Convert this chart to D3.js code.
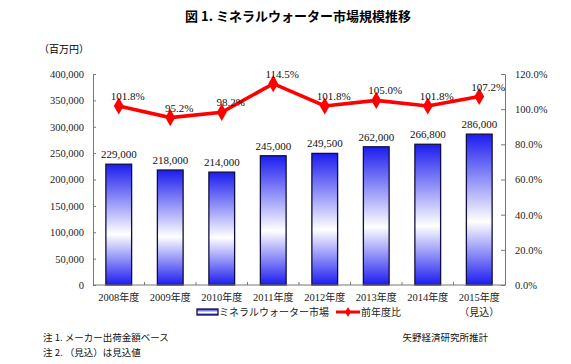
<!DOCTYPE html>
<html><head><meta charset="utf-8">
<script src="https://cdn.jsdelivr.net/npm/d3@7"></script>
<style>body{margin:0;background:#fff}svg{display:block}</style>
</head><body>
<script>
const categories = ["2008年度","2009年度","2010年度","2011年度","2012年度","2013年度","2014年度","2015年度"];
const subLabels = ["","","","","","","","（見込）"];
const marketValues = [229000,218000,214000,245000,249500,262000,266800,286000];
const yoyValues = [101.8,95.2,98.2,114.5,101.8,105.0,101.8,107.2];
const leftTicks = [0,50000,100000,150000,200000,250000,300000,350000,400000];
const rightTicks = [0,20,40,60,80,100,120];

const W=571,H=364;
const m={l:93,r:66,t:74,b:79};
const svg=d3.select("body").append("svg").attr("width",W).attr("height",H);
const serif="'Liberation Serif','DejaVu Serif',serif";
const jp="'Noto Sans CJK JP',sans-serif";

const defs=svg.append("defs");
const g1=defs.append("linearGradient").attr("id","barg").attr("x1",0).attr("y1",0).attr("x2",0).attr("y2",1);
g1.append("stop").attr("offset","0%").attr("stop-color","#1c1cf0");
g1.append("stop").attr("offset","58%").attr("stop-color","#ffffff");
g1.append("stop").attr("offset","100%").attr("stop-color","#1c1cf0");

const x=d3.scaleBand().domain(categories).range([m.l,W-m.r]).paddingInner(0.5).paddingOuter(0.25);
const xb=d3.scaleBand().domain(categories).range([m.l,W-m.r]);
const y=d3.scaleLinear().domain([0,400000]).range([H-m.b,m.t]);
const y2=d3.scaleLinear().domain([0,120]).range([H-m.b,m.t]);

// title
svg.append("text").attr("x",298).attr("y",21).attr("text-anchor","middle")
 .attr("font-family",jp).attr("font-weight","bold").attr("font-size","13px")
 .text("図 1. ミネラルウォーター市場規模推移");
svg.append("text").attr("x",64).attr("y",53).attr("text-anchor","middle")
 .attr("font-family",jp).attr("font-size","10px").text("（百万円）");

// axes
const fmt=d3.format(",");
const la=svg.append("g").attr("transform",`translate(${m.l},0)`)
 .call(d3.axisLeft(y).tickValues(leftTicks).tickFormat(fmt).tickSizeInner(-3).tickSizeOuter(0).tickPadding(9));
const ra=svg.append("g").attr("transform",`translate(${W-m.r},0)`)
 .call(d3.axisRight(y2).tickValues(rightTicks).tickFormat(d=>d.toFixed(1)+"%").tickSizeInner(-4).tickSizeOuter(0).tickPadding(10));
[la,ra].forEach(a=>{a.attr("font-family",serif).attr("font-size","10.5px");
 a.selectAll("text").attr("fill","#222");
 a.selectAll("line,path").attr("stroke","#777");});

// bars
svg.append("g").selectAll("rect").data(categories).join("rect")
 .attr("x",d=>x(d)).attr("width",x.bandwidth())
 .attr("y",(d,i)=>y(marketValues[i])).attr("height",(d,i)=>y(0)-y(marketValues[i]))
 .attr("fill","url(#barg)").attr("stroke","#101040").attr("stroke-width",1.3);

// x axis line and ticks
svg.append("line").attr("x1",m.l).attr("x2",W-m.r).attr("y1",y(0)).attr("y2",y(0)).attr("stroke","#777");
svg.append("g").selectAll("line").data(categories.slice(1)).join("line")
 .attr("x1",d=>xb(d)).attr("x2",d=>xb(d)).attr("y1",y(0)).attr("y2",y(0)-3).attr("stroke","#777");

// x labels
svg.append("g").selectAll("text").data(categories).join("text")
 .attr("x",d=>x(d)+x.bandwidth()/2).attr("y",y(0)+16).attr("text-anchor","middle")
 .attr("font-size","10.5px").attr("fill","#222")
 .each(function(d){
   const t=d3.select(this); const yr=d.replace("年度","");
   t.append("tspan").attr("font-family",serif).text(yr);
   t.append("tspan").attr("font-family",jp).attr("font-size","10px").text("年度");
 });
svg.append("g").selectAll("text").data(categories.filter((d,i)=>subLabels[i])).join("text")
 .attr("x",d=>x(d)+x.bandwidth()/2).attr("y",y(0)+31).attr("text-anchor","middle")
 .attr("font-family",jp).attr("font-size","10px").attr("fill","#222")
 .text(d=>subLabels[categories.indexOf(d)]);

// bar labels
svg.append("g").selectAll("text").data(categories).join("text")
 .attr("x",d=>x(d)+x.bandwidth()/2).attr("y",(d,i)=>y(marketValues[i])-6).attr("text-anchor","middle")
 .attr("font-family",serif).attr("font-size","11px").attr("fill","#111")
 .text((d,i)=>fmt(marketValues[i]));

// line
const cx=d=>x(d)+x.bandwidth()/2;
const line=d3.line().x((d,i)=>cx(categories[i])).y(d=>y2(d));
svg.append("path").datum(yoyValues).attr("d",line).attr("fill","none").attr("stroke","#ff0000").attr("stroke-width",3.6);
const diamond=d3.symbol().type(d3.symbolDiamond).size(85);
svg.append("g").selectAll("path").data(yoyValues).join("path")
 .attr("transform",(d,i)=>`translate(${cx(categories[i])},${y2(d)})`).attr("d",diamond).attr("fill","#ff0000");
svg.append("g").selectAll("text").data(yoyValues).join("text")
 .attr("x",(d,i)=>cx(categories[i])+9).attr("y",d=>y2(d)-6).attr("text-anchor","middle")
 .attr("font-family",serif).attr("font-size","11px").attr("fill","#111")
 .text(d=>d.toFixed(1)+"%");

// legend
const lg=svg.append("g");
lg.append("rect").attr("x",197).attr("y",309).attr("width",21).attr("height",6)
 .attr("fill","url(#barg)").attr("stroke","#101040").attr("stroke-width",1.3);
lg.append("text").attr("x",219).attr("y",316).attr("font-family",jp).attr("font-size","10px").attr("fill","#222").text("ミネラルウォーター市場");
lg.append("line").attr("x1",336).attr("x2",360).attr("y1",312).attr("y2",312).attr("stroke","#ff0000").attr("stroke-width",3);
lg.append("path").attr("transform","translate(348,312)").attr("d",d3.symbol().type(d3.symbolDiamond).size(30)).attr("fill","#ff0000");
lg.append("text").attr("x",361).attr("y",316).attr("font-family",jp).attr("font-size","10px").attr("fill","#222").text("前年度比");

// notes
const nt=svg.append("g").attr("font-family",jp).attr("font-size","9.5px").attr("fill","#111");
nt.append("text").attr("x",43).attr("y",341).text("注 1. メーカー出荷金額ベース");
nt.append("text").attr("x",43).attr("y",356).text("注 2. （見込）は見込値");
nt.append("text").attr("x",488).attr("y",341).attr("text-anchor","end").text("矢野経済研究所推計");
</script>
</body></html>
